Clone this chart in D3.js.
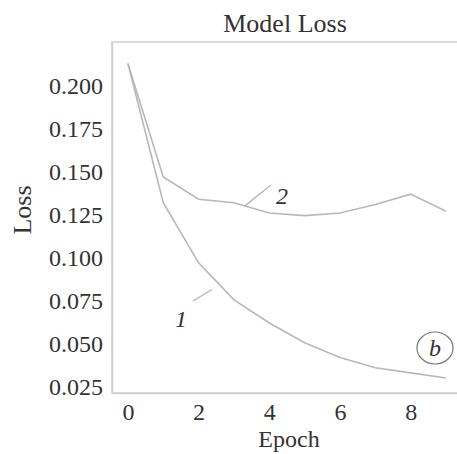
<!DOCTYPE html>
<html><head><meta charset="utf-8">
<script src="https://cdn.jsdelivr.net/npm/d3@7"></script>
<style>body{margin:0;background:#fff}svg{display:block}</style>
</head><body>
<script>
const epochs = [0,1,2,3,4,5,6,7,8,9];
const trainLoss = [0.213,0.132,0.097,0.0755,0.062,0.0505,0.042,0.036,0.033,0.030];
const valLoss = [0.213,0.147,0.134,0.132,0.126,0.1245,0.126,0.131,0.137,0.127];
const xTicks = [0,2,4,6,8];
const yTicks = [0.025,0.050,0.075,0.100,0.125,0.150,0.175,0.200];

const W = 457, H = 454;
const svg = d3.select("body").append("svg").attr("width", W).attr("height", H);
const font = "'Liberation Serif','Times New Roman',serif";
const x = d3.scaleLinear().domain([-0.45, 9.45]).range([112, 462]);
const y = d3.scaleLinear().domain([0.0213, 0.2255]).range([393, 42]);

// frame
svg.append("rect").attr("x",112).attr("y",42).attr("width",350).attr("height",351)
  .attr("fill","none").attr("stroke","#d0d0d0").attr("stroke-width",1.5);

const xa = svg.append("g").attr("transform","translate(0,393)")
  .call(d3.axisBottom(x).tickValues(xTicks).tickSize(0).tickPadding(10).tickFormat(d3.format("d")));
const ya = svg.append("g").attr("transform","translate(112,0)")
  .call(d3.axisLeft(y).tickValues(yTicks).tickSize(0).tickPadding(9).tickFormat(d3.format(".3f")));
[xa,ya].forEach(a=>{
  a.select(".domain").attr("stroke","#d0d0d0").attr("stroke-width",1.5);
  a.selectAll("text").attr("font-family",font).attr("font-size",24).attr("fill","#333");
});

const line = d3.line().x((d,i)=>x(epochs[i])).y(d=>y(d));
[trainLoss, valLoss].forEach(s=>{
  svg.append("path").datum(s).attr("d",line).attr("fill","none")
    .attr("stroke","#b8b8b8").attr("stroke-width",1.6);
});

// title & axis labels
svg.append("text").attr("x",285).attr("y",32).attr("text-anchor","middle")
  .attr("font-family",font).attr("font-size",26).attr("fill","#333").text("Model Loss");
svg.append("text").attr("x",289).attr("y",447).attr("text-anchor","middle")
  .attr("font-family",font).attr("font-size",24).attr("fill","#333").text("Epoch");
svg.append("text").attr("transform","translate(31,210) rotate(-90)").attr("text-anchor","middle")
  .attr("font-family",font).attr("font-size",26).attr("fill","#333").text("Loss");

// annotations
const ann = svg.append("g").attr("stroke","#b8b8b8").attr("stroke-width",1.4);
ann.append("line").attr("x1",x(2.38)).attr("y1",y(0.0815)).attr("x2",193).attr("y2",301);
ann.append("line").attr("x1",x(3.3)).attr("y1",y(0.130)).attr("x2",271).attr("y2",185);
svg.append("text").attr("x",181).attr("y",327).attr("text-anchor","middle")
  .attr("font-family",font).attr("font-style","italic").attr("font-size",24).attr("fill","#333").text("1");
svg.append("text").attr("x",282).attr("y",204).attr("text-anchor","middle")
  .attr("font-family",font).attr("font-style","italic").attr("font-size",24).attr("fill","#333").text("2");
svg.append("ellipse").attr("cx",435).attr("cy",348).attr("rx",18).attr("ry",16)
  .attr("fill","none").attr("stroke","#777").attr("stroke-width",1.2);
svg.append("text").attr("x",435).attr("y",356).attr("text-anchor","middle")
  .attr("font-family",font).attr("font-style","italic").attr("font-size",24).attr("fill","#333").text("b");
</script>
</body></html>
